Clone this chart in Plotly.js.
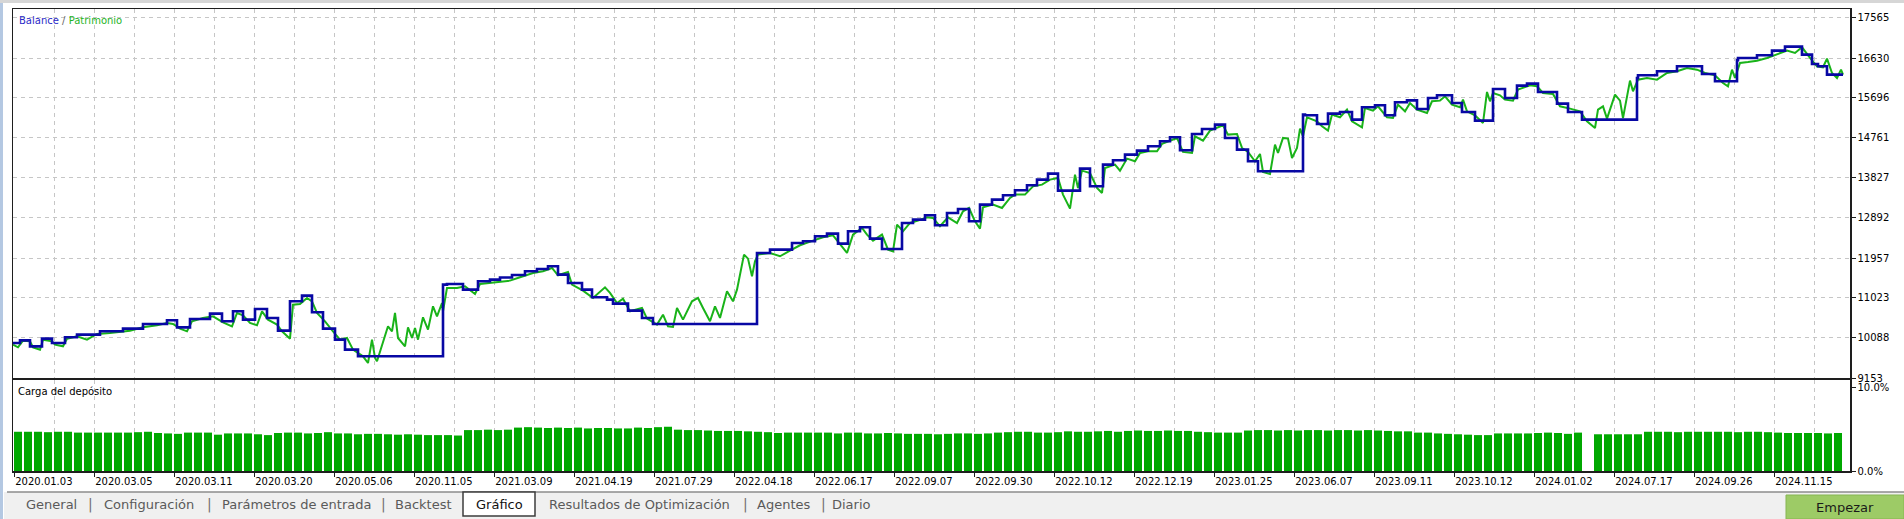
<!DOCTYPE html>
<html>
<head>
<meta charset="utf-8">
<script src="https://cdn.plot.ly/plotly-3.0.1.min.js"></script>
<style>
  html, body { margin: 0; padding: 0; background: #fff; }
  #chart { width: 1904px; height: 519px; }
</style>
</head>
<body>
<div id="chart"></div>
<script>
// deal position on the tester's x scale -> balance steps
const balX = [13,20,30,42,52,65,77,100,123,143,167,177,190,210,222,233,243,255,267,278,290,302,312,323,335,345,358,443,447,463,478,490,500,512,525,537,548,558,568,582,592,607,613,628,642,653,757,770,792,803,815,827,838,848,860,870,882,902,913,925,935,947,958,969,980,992,1003,1015,1027,1037,1048,1058,1080,1090,1103,1113,1125,1137,1148,1160,1170,1180,1192,1202,1215,1225,1237,1248,1258,1303,1305,1317,1328,1340,1352,1362,1375,1385,1395,1407,1417,1428,1437,1452,1462,1475,1493,1505,1517,1527,1538,1557,1568,1582,1637,1638,1657,1677,1702,1715,1737,1738,1757,1772,1785,1802,1812,1818,1827,1843];
const balance = [9971,10033,9893,10072,9971,10104,10166,10244,10306,10415,10501,10337,10532,10657,10478,10711,10516,10766,10555,10259,10945,11077,10688,10306,10049,9815,9660,11334,11350,11218,11413,11451,11500,11560,11646,11701,11763,11568,11374,11218,11039,10984,10891,10727,10556,10415,12075,12152,12308,12347,12464,12526,12293,12581,12674,12410,12168,12776,12854,12955,12721,13009,13102,12814,13204,13321,13422,13539,13656,13788,13928,13531,14045,13632,14139,14240,14372,14466,14567,14684,14777,14474,14855,14972,15073,14762,14489,14216,13983,15307,15291,15089,15330,15369,15190,15479,15525,15291,15595,15641,15439,15696,15758,15579,15369,15166,15906,15696,15984,16031,15836,15564,15369,15190,16163,16226,16319,16436,16257,16086,16576,16631,16693,16802,16896,16709,16491,16436,16241,16241];

// equity (patrimonio)
const eqX = [13,18,23,30,33,40,43,52,55,63,67,77,87,97,110,120,130,143,157,167,173,180,187,192,203,213,223,232,237,243,250,257,262,268,277,282,290,293,300,307,312,317,325,333,340,347,353,363,368,372,375,377,382,388,392,395,398,405,408,412,415,418,423,428,433,437,442,443,447,457,465,472,475,480,490,500,510,520,533,543,552,558,568,572,583,593,605,610,617,623,630,642,647,657,663,668,673,677,683,692,698,703,710,715,720,727,733,737,744,748,752,755,758,770,780,790,800,813,823,833,838,847,853,862,867,873,882,888,893,897,903,910,918,927,933,940,948,957,963,969,975,980,983,993,1002,1010,1015,1025,1033,1042,1050,1058,1063,1070,1075,1078,1082,1090,1097,1102,1105,1115,1120,1127,1135,1140,1148,1157,1162,1170,1177,1183,1192,1195,1203,1210,1217,1223,1228,1237,1242,1248,1255,1260,1263,1270,1275,1278,1283,1288,1292,1297,1300,1303,1307,1317,1322,1328,1332,1340,1347,1352,1362,1365,1373,1378,1387,1393,1398,1405,1410,1417,1427,1432,1440,1445,1452,1460,1463,1467,1475,1483,1487,1490,1493,1500,1505,1513,1518,1523,1530,1537,1543,1553,1560,1570,1580,1587,1595,1598,1603,1607,1615,1620,1623,1630,1633,1638,1647,1657,1667,1677,1687,1697,1705,1715,1723,1728,1732,1735,1740,1748,1757,1767,1777,1787,1795,1802,1810,1817,1823,1827,1832,1837,1841,1843];
const equity = [9932,9870,10026,10010,9870,9815,10049,10010,9932,9893,10072,10127,10049,10181,10205,10228,10259,10337,10384,10439,10415,10306,10244,10477,10555,10594,10454,10361,10672,10618,10439,10384,10711,10516,10400,10244,10072,10867,10883,11023,10945,10672,10477,10244,10049,10088,9815,9660,9504,10049,9621,9543,9917,10361,10244,10672,10088,9893,10337,10088,10322,10049,10571,10283,10828,10594,10906,10711,11257,11257,11296,11179,11116,11350,11374,11397,11428,11506,11607,11646,11724,11553,11631,11334,11194,11023,11272,11140,10906,11007,10711,10789,10540,10400,10633,10361,10345,10789,10517,10945,11023,10789,10478,10828,10556,11179,10945,11218,12036,11942,11529,11880,12036,12075,11997,12129,12254,12363,12441,12487,12347,12075,12503,12659,12503,12363,12503,12152,12113,12737,12581,12776,12831,12908,12892,12698,12908,12775,13048,13126,12814,12643,13142,13204,13126,13360,13438,13438,13632,13671,13788,13827,13438,13110,13905,13593,13998,13944,13593,13476,14061,14139,13998,14279,14216,14411,14450,14450,14622,14699,14762,14435,14411,14801,14699,14933,14996,15058,14840,14855,14528,14435,14216,14388,13967,13920,14606,14411,14762,14746,14294,14528,14980,14801,15245,15151,15034,14933,15307,15245,15424,15151,15011,15463,15401,15502,15245,15229,15540,15384,15579,15423,15345,15618,15634,15735,15540,15478,15657,15384,15291,15112,15836,15618,15813,15758,15657,15634,15891,15930,15992,15969,15813,15789,15501,15447,15384,15151,14995,15423,15501,15213,15774,15634,15229,16101,15852,16124,16163,16124,16280,16319,16397,16358,16280,16226,16046,15969,16358,16163,16514,16537,16568,16631,16709,16802,16748,16880,16631,16436,16413,16615,16280,16163,16358,16241];

// deposit load, % (one bar per group of deals)
const load = [
  4.7,4.7,4.7,4.65,4.7,4.7,4.6,4.6,4.6,4.6,
  4.6,4.6,4.65,4.7,4.55,4.5,4.45,4.6,4.6,4.6,
  4.35,4.5,4.5,4.5,4.4,4.3,4.55,4.6,4.6,4.5,
  4.55,4.65,4.5,4.5,4.4,4.45,4.45,4.4,4.35,4.4,
  4.35,4.3,4.3,4.3,4.25,4.9,4.9,4.95,4.9,4.95,
  5.2,5.25,5.2,5.15,5.2,5.15,5.2,5.1,5.15,5.15,
  5.1,5.1,5.2,5.15,5.25,5.3,4.95,4.9,4.9,4.85,
  4.8,4.8,4.8,4.75,4.7,4.65,4.55,4.6,4.6,4.6,
  4.6,4.6,4.5,4.6,4.6,4.5,4.5,4.55,4.5,4.45,
  4.45,4.45,4.4,4.45,4.5,4.5,4.45,4.5,4.6,4.65,
  4.7,4.7,4.6,4.6,4.65,4.75,4.7,4.7,4.75,4.8,
  4.7,4.8,4.85,4.8,4.8,4.85,4.8,4.8,4.7,4.65,
  4.6,4.6,4.6,4.85,4.9,4.9,4.85,4.9,4.85,4.9,
  4.9,4.85,4.9,4.9,4.85,4.9,4.85,4.8,4.75,4.75,
  4.6,4.6,4.5,4.45,4.4,4.35,4.3,4.3,4.5,4.5,
  4.5,4.5,4.55,4.6,4.55,4.45,4.6,0,4.4,4.4,
  4.4,4.4,4.4,4.7,4.7,4.7,4.65,4.7,4.7,4.7,
  4.7,4.7,4.65,4.7,4.7,4.65,4.6,4.55,4.55,4.55,
  4.55,4.5,4.55
];

const dateLabels = ["2020.01.03","2020.03.05","2020.03.11","2020.03.20","2020.05.06","2020.11.05","2021.03.09","2021.04.19","2021.07.29","2022.04.18","2022.06.17","2022.09.07","2022.09.30","2022.10.12","2022.12.19","2023.01.25","2023.06.07","2023.09.11","2023.10.12","2024.01.02","2024.07.17","2024.09.26","2024.11.15"];
const balanceTicks = [9153,10088,11023,11957,12892,13827,14761,15696,16630,17565];

const tabs = ["General","Configuración","Parámetros de entrada","Backtest","Gráfico","Resultados de Optimización","Agentes","Diario"];
const tabCenters = [51,149,296,423,499,639,783,851];
const tabSeps = [90,209,383,745,823];

// pixel helpers (plot box 13..1850 x 9..471)
const L = 13, R = 1850, T = 9, B = 471;
const px = x => (x - L) / (R - L);
const py = y => (B - y) / (B - T);

const GRID = "#c6c6c6";
const FRAME = "#1e1e1e";
const FONT = "DejaVu Sans";

const barX = load.map((v, i) => 18 + i * 10);
const tickPos = dateLabels.map((d, i) => 14 + i * 80);

var data = [
  {
    type: "scatter", mode: "lines", x: eqX, y: equity,
    line: { color: "#19b319", width: 2 },
    xaxis: "x", yaxis: "y", hoverinfo: "skip"
  },
  {
    type: "scatter", mode: "lines", x: balX, y: balance,
    line: { color: "#0808a4", width: 2.6, shape: "hv" },
    xaxis: "x", yaxis: "y", hoverinfo: "skip"
  },
  {
    type: "bar", x: barX, y: load, width: 8,
    marker: { color: "#00a800", line: { width: 0 } },
    xaxis: "x2", yaxis: "y2", hoverinfo: "skip"
  }
];

var shapes = [
  // window edges
  { type: "rect", xref: "paper", yref: "paper", x0: px(0), x1: px(3), y0: py(519), y1: py(0), fillcolor: "#b4c8e2", line: { width: 0 }, layer: "below" },
  { type: "rect", xref: "paper", yref: "paper", x0: px(0), x1: px(1904), y0: py(3), y1: py(0), fillcolor: "#d6d6d6", line: { width: 0 }, layer: "below" },
  // tab bar
  { type: "rect", xref: "paper", yref: "paper", x0: px(4), x1: px(1904), y0: py(519), y1: py(492), fillcolor: "#f0f0f0", line: { width: 0 }, layer: "below" },
  { type: "line", xref: "paper", yref: "paper", x0: px(7), x1: px(1904), y0: py(492), y1: py(492), line: { color: "#8c8c8c", width: 1.5 } },
  { type: "rect", xref: "paper", yref: "paper", x0: px(463), x1: px(535), y0: py(516), y1: py(492), fillcolor: "#ffffff", line: { color: "#3c3c3c", width: 1.5 } },
  // start button
  { type: "rect", xref: "paper", yref: "paper", x0: px(1786), x1: px(1904), y0: py(519), y1: py(495), fillcolor: "#9dcb66", line: { color: "#86b552", width: 1 } }
];

var annotations = [
  {
    xref: "paper", yref: "paper", x: px(17), y: py(13), xanchor: "left", yanchor: "top", showarrow: false,
    text: "<span style='color:#2a2ac8'>Balance</span><span style='color:#666'> / </span><span style='color:#1fb41f'>Patrimonio</span>",
    font: { family: FONT, size: 10 }
  },
  {
    xref: "paper", yref: "paper", x: px(16), y: py(384), xanchor: "left", yanchor: "top", showarrow: false,
    text: "Carga del depósito", font: { family: FONT, size: 10, color: "#000" }
  },
  {
    xref: "paper", yref: "paper", x: px(1845), y: py(507), xanchor: "center", yanchor: "middle", showarrow: false,
    text: "Empezar", font: { family: FONT, size: 13, color: "#1a1a1a" }
  }
];
tabs.forEach((t, i) => {
  annotations.push({
    xref: "paper", yref: "paper", x: px(tabCenters[i]), y: py(504), xanchor: "center", yanchor: "middle", showarrow: false,
    text: t, font: { family: FONT, size: 13, color: t === "Gráfico" ? "#111" : "#5a5a5a" }
  });
});
tabSeps.forEach(s => {
  annotations.push({
    xref: "paper", yref: "paper", x: px(s), y: py(504), xanchor: "center", yanchor: "middle", showarrow: false,
    text: "|", font: { family: FONT, size: 14, color: "#707070" }
  });
});

var layout = {
  width: 1904, height: 519,
  margin: { l: L, r: 1904 - R, t: T, b: 519 - B },
  paper_bgcolor: "#ffffff", plot_bgcolor: "#ffffff",
  showlegend: false, hovermode: false,
  font: { family: FONT, size: 10, color: "#000" },
  xaxis: {
    domain: [0, 1], anchor: "y", range: [13, 1850],
    tickmode: "linear", tick0: 14, dtick: 40,
    showticklabels: false, ticks: "",
    showgrid: true, gridcolor: GRID, griddash: "4px,4px", gridwidth: 1,
    zeroline: false, showline: true, mirror: true, linecolor: FRAME, linewidth: 1.5
  },
  yaxis: {
    domain: [py(378), 1], anchor: "x", side: "right", range: [9153, 17775],
    tickmode: "array", tickvals: balanceTicks, ticktext: balanceTicks.map(String),
    ticks: "outside", ticklen: 4, tickcolor: FRAME,
    tickfont: { family: FONT, size: 10, color: "#000" },
    showgrid: true, gridcolor: GRID, griddash: "4px,4px", gridwidth: 1,
    zeroline: false, showline: true, mirror: true, linecolor: FRAME, linewidth: 1.5
  },
  xaxis2: {
    domain: [0, 1], anchor: "y2", range: [13, 1850],
    tickmode: "array", tickvals: tickPos, ticktext: dateLabels,
    ticks: "outside", ticklen: 4, tickcolor: FRAME,
    ticklabelposition: "outside right",
    tickfont: { family: FONT, size: 10, color: "#000" },
    showgrid: true, gridcolor: GRID, griddash: "4px,4px", gridwidth: 1,
    minor: { tickmode: "linear", tick0: 54, dtick: 80, showgrid: true, gridcolor: GRID, griddash: "4px,4px", ticks: "" },
    zeroline: false, showline: true, mirror: true, linecolor: FRAME, linewidth: 1.5
  },
  yaxis2: {
    domain: [0, py(380)], anchor: "x2", side: "right", range: [0, 10.9],
    tickmode: "array", tickvals: [0, 10], ticktext: ["0.0%", "10.0%"],
    ticks: "outside", ticklen: 4, tickcolor: FRAME,
    tickfont: { family: FONT, size: 10, color: "#000" },
    showgrid: false, zeroline: false, showline: true, mirror: true, linecolor: FRAME, linewidth: 1.5
  },
  shapes: shapes,
  annotations: annotations
};

Plotly.newPlot("chart", data, layout, { staticPlot: true, displayModeBar: false });
</script>
</body>
</html>
